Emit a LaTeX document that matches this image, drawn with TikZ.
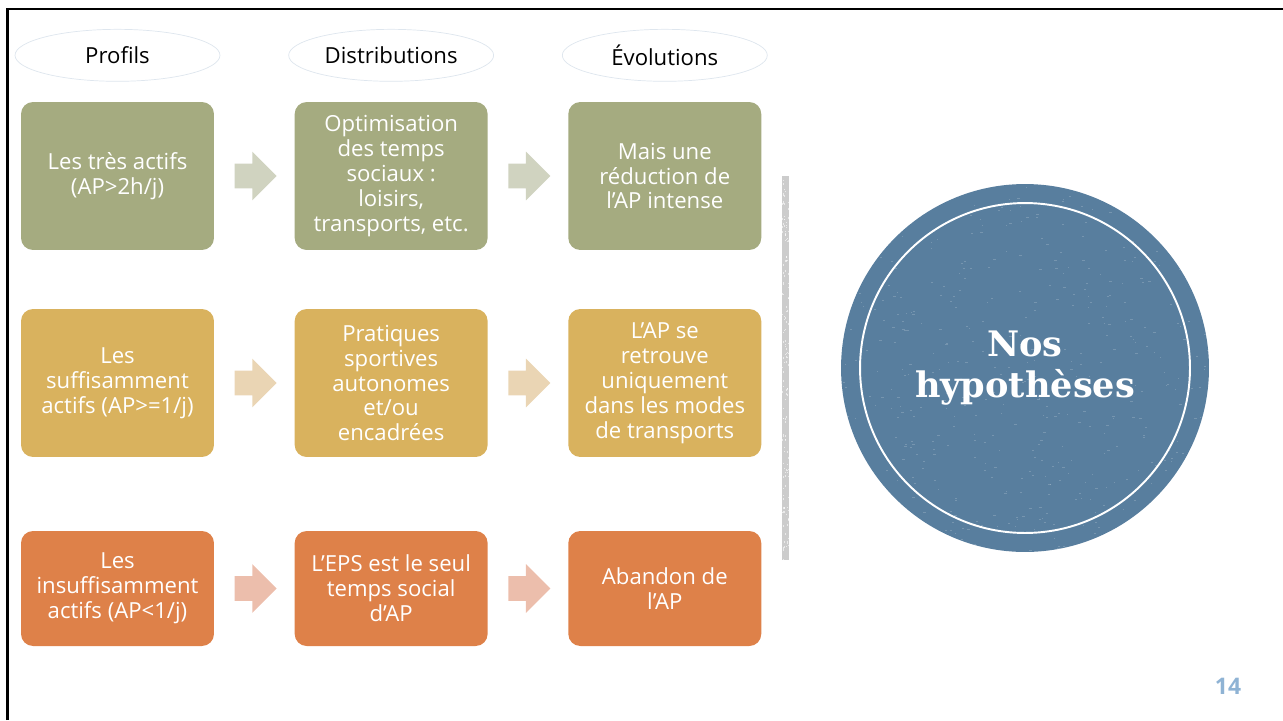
\documentclass[tikz,border=0pt]{standalone}
\usepackage{fontspec}
\setmainfont{Open Sans}
\newfontfamily\hypfont{DejaVu Serif}
\usetikzlibrary{positioning,shapes.geometric,shapes.arrows}

\definecolor{olivebox}{RGB}{165,171,128}
\definecolor{olivearr}{RGB}{208,211,192}
\definecolor{goldbox}{RGB}{217,178,94}
\definecolor{goldarr}{RGB}{234,213,180}
\definecolor{rustbox}{RGB}{222,129,73}
\definecolor{rustarr}{RGB}{236,190,172}
\definecolor{hypblue}{RGB}{88,126,158}
\definecolor{headline}{RGB}{222,230,238}
\definecolor{bargrey}{RGB}{204,204,204}
\definecolor{pagenum}{RGB}{143,179,212}

\tikzset{
  cell/.style={rounded corners=0.24cm, minimum width=3.86cm, minimum height=2.96cm,
    inner sep=0pt, align=center, text=white, font=\fontsize{12.6}{14.2}\selectfont},
  rowone/.style={cell, fill=olivebox},
  rowtwo/.style={cell, fill=goldbox},
  rowthree/.style={cell, fill=rustbox, minimum height=2.3cm},
  colhead/.style={ellipse, draw=headline, fill=white, minimum width=4.1cm,
    minimum height=1.04cm, inner sep=0pt, font=\fontsize{12.6}{14.2}\selectfont},
  flow/.style={single arrow, minimum height=0.84cm, inner xsep=0pt, inner ysep=0.24cm,
    single arrow head extend=0.24cm, draw=none}
}

\begin{document}
\begin{tikzpicture}[x=0.02cm, y=-0.02cm]
  \useasboundingbox (0,0) rectangle (1283,720);

  % slide frame
  \draw[line width=0.06cm] (7.5,720) -- (7.5,9) -- (1283,9);

  % first column
  \node[rowone] (p1) at (117.5,176) {Les très actifs\\(AP>2h/j)};
  \node[rowtwo] (p2) at (117.5,383) {Les\\suffisamment\\actifs (AP>=1/j)};
  \node[rowthree] (p3) at (117.5,588.5) {Les\\insuffisamment\\actifs (AP<1/j)};

  % distributions
  \node[rowone, right=1.6cm of p1] (d1) {Optimisation\\des temps\\sociaux :\\loisirs,\\transports, etc.};
  \node[rowtwo, right=1.6cm of p2] (d2) {Pratiques\\sportives\\autonomes\\et/ou\\encadrées};
  \node[rowthree, right=1.6cm of p3] (d3) {L’EPS est le seul\\temps social\\d’AP};

  % evolutions
  \node[rowone, right=1.6cm of d1] (e1) {Mais une\\réduction de\\l’AP intense};
  \node[rowtwo, right=1.6cm of d2] (e2) {L’AP se\\retrouve\\uniquement\\dans les modes\\de transports};
  \node[rowthree, right=1.6cm of d3] (e3) {Abandon de\\l’AP};

  % column headings
  \node[colhead, above=0.4cm of p1] (h1) {Profils};
  \node[colhead, above=0.4cm of d1] (h2) {Distributions};
  \node[colhead, above=0.4cm of e1] (h3) {Évolutions};

  % block arrows
  \node[flow, fill=olivearr, right=0.4cm of p1] (a11) {};
  \node[flow, fill=olivearr, right=0.4cm of d1] (a12) {};
  \node[flow, fill=goldarr, right=0.4cm of p2] (a21) {};
  \node[flow, fill=goldarr, right=0.4cm of d2] (a22) {};
  \node[flow, fill=rustarr, right=0.4cm of p3] (a31) {};
  \node[flow, fill=rustarr, right=0.4cm of d3] (a32) {};

  % separator
  \fill[bargrey] (782,176) rectangle (789,560);
  \pgfmathsetseed{7}
  \foreach \i in {1,...,160}
    \fill[white, opacity=0.6] ({782+7*rnd},{176+384*rnd}) rectangle ++(1,1.5);

  % hypotheses badge
  \node[circle, fill=hypblue, minimum size=7.36cm, inner sep=0pt] (hyp) at (1025,368) {};
  \begin{scope}
    \clip (hyp.center) circle (184);
    \foreach \i in {1,...,500}
      \fill[white, opacity=0.18] ({841+368*rnd},{185+368*rnd}) rectangle ++({1+2*rnd},1);
  \end{scope}
  \node[circle, draw=white, line width=1.1pt, minimum size=6.6cm, inner sep=0pt,
    align=center, text=white, font={\hypfont\bfseries\fontsize{20}{23.5}\selectfont}]
    (ring) at (hyp.center) {Nos\\hypothèses};

  % page number
  \node[text=pagenum, font=\bfseries\fontsize{13}{15}\selectfont] (page) at (1228,686) {14};
\end{tikzpicture}
\end{document}
